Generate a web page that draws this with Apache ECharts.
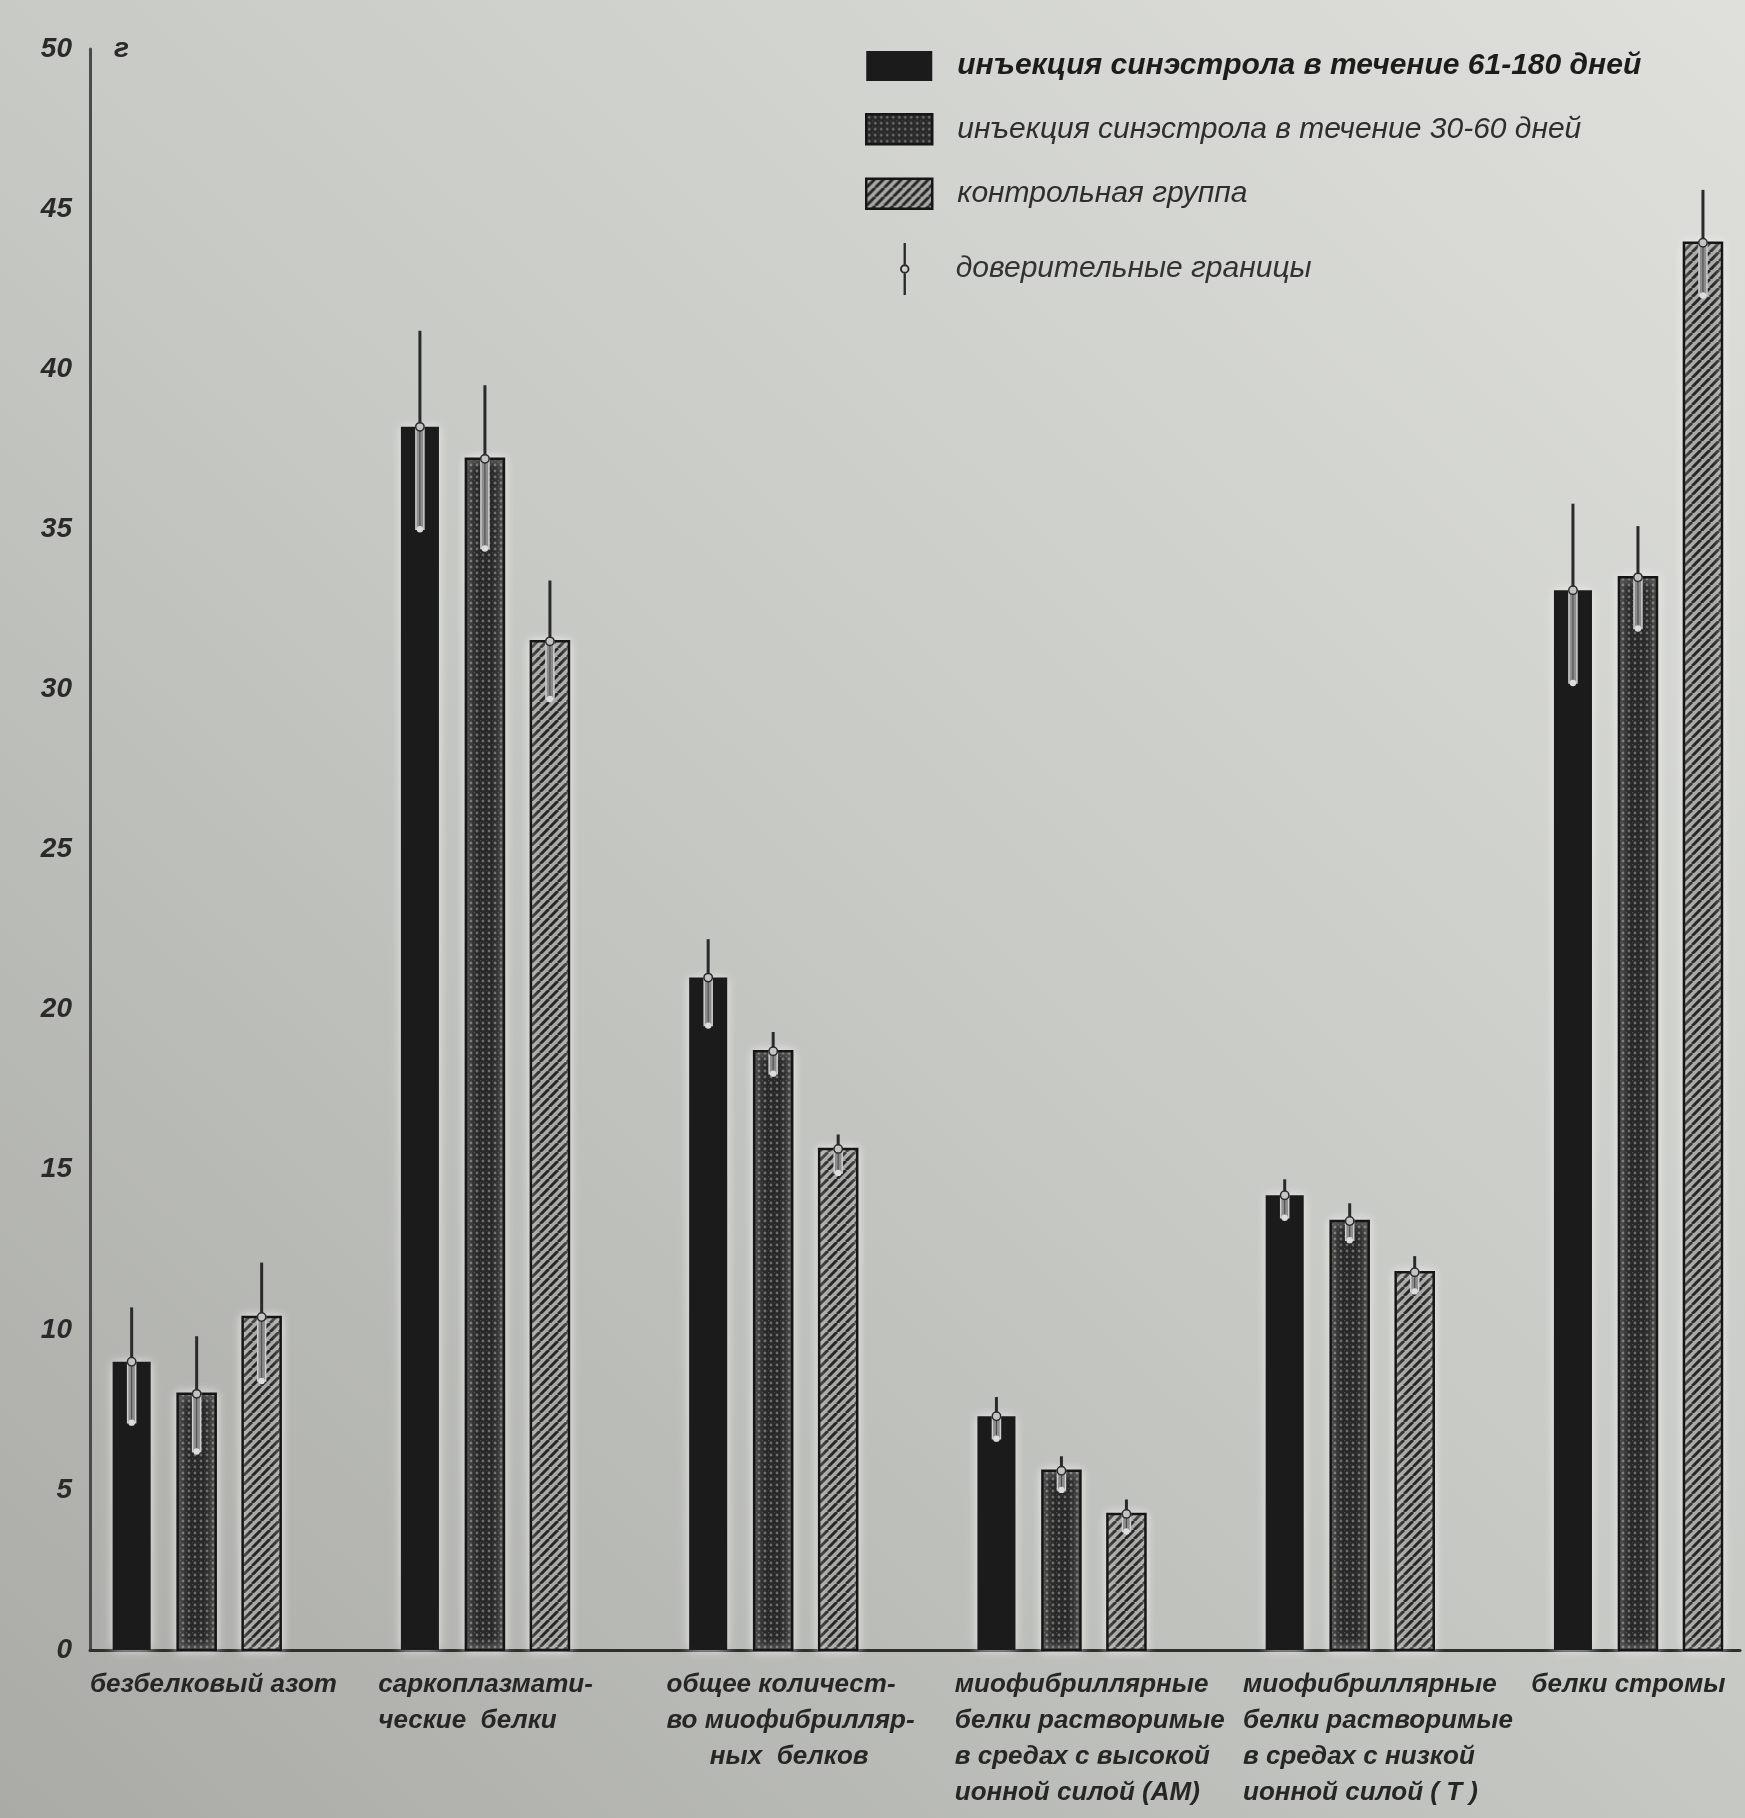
<!DOCTYPE html>
<html>
<head>
<meta charset="utf-8">
<script src="https://cdn.jsdelivr.net/npm/echarts@6/dist/echarts.min.js"></script>
<style>
html,body{margin:0;padding:0;width:1745px;height:1818px;overflow:hidden;}
#c{width:1745px;height:1818px;}
</style>
</head>
<body>
<div id="c"></div>
<script>
// ---- data ----
const categories = [
  'безбелковый азот',
  'саркоплазмати-\nческие  белки',
  'общее количест-\nво миофибрилляр-\n      ных  белков',
  'миофибриллярные\nбелки растворимые\nв средах с высокой\nионной силой (АМ)',
  'миофибриллярные\nбелки растворимые\nв средах с низкой\nионной силой ( Т )',
  'белки стромы'
];
const seriesNames = [
  'инъекция синэстрола в течение 61-180 дней',
  'инъекция синэстрола в течение 30-60 дней',
  'контрольная группа'
];
const errorName = 'доверительные границы';
const yTicks = [0, 5, 10, 15, 20, 25, 30, 35, 40, 45, 50];

const mean61_180  = [9.0, 38.2, 21.0, 7.3, 14.2, 33.1];
const upper61_180 = [10.7, 41.2, 22.2, 7.9, 14.7, 35.8];
const lower61_180 = [7.1, 35.0, 19.5, 6.6, 13.5, 30.2];

const mean30_60  = [8.0, 37.2, 18.7, 5.6, 13.4, 33.5];
const upper30_60 = [9.8, 39.5, 19.3, 6.05, 13.95, 35.1];
const lower30_60 = [6.2, 34.4, 18.0, 5.0, 12.8, 31.9];

const meanCtrl  = [10.4, 31.5, 15.65, 4.25, 11.8, 43.95];
const upperCtrl = [12.1, 33.4, 16.1, 4.7, 12.3, 45.6];
const lowerCtrl = [8.4, 29.7, 14.9, 3.7, 11.2, 42.3];

// ---- patterns ----
function makePattern(kind) {
  const c = document.createElement('canvas');
  if (kind === 'cross') {
    c.width = 6; c.height = 6;
    const g = c.getContext('2d');
    g.fillStyle = '#282828'; g.fillRect(0, 0, 6, 6);
    g.fillStyle = '#6e6e6e';
    g.beginPath(); g.arc(3, 3, 1.4, 0, Math.PI * 2); g.fill();
    g.fillStyle = '#505050';
    g.fillRect(0, 0, 1, 1);
  } else {
    c.width = 9; c.height = 9;
    const g = c.getContext('2d');
    g.fillStyle = '#a8a8a6'; g.fillRect(0, 0, 9, 9);
    g.strokeStyle = '#262626'; g.lineWidth = 3;
    for (let k = -9; k <= 18; k += 9) {
      g.beginPath(); g.moveTo(k, 9); g.lineTo(k + 9, 0); g.stroke();
    }
  }
  return { image: c, repeat: 'repeat' };
}
const fills = ['#1b1b1b', makePattern('cross'), makePattern('diag')];
const OFFSETS = [-0.2255, 0, 0.2255];
const BAR_W = 0.132;

function barRender(idx) {
  return function (params, api) {
    const x = api.value(0), v = api.value(1);
    const top = api.coord([x + OFFSETS[idx], v]);
    const bot = api.coord([x + OFFSETS[idx], 0]);
    const w = api.size([BAR_W, 0])[0];
    return {
      type: 'rect',
      shape: { x: top[0] - w / 2, y: top[1], width: w, height: bot[1] - top[1] },
      style: {
        fill: fills[idx],
        stroke: '#161616',
        lineWidth: idx === 0 ? 0 : 2.5,
        shadowBlur: 10,
        shadowColor: 'rgba(240,240,238,0.9)'
      }
    };
  };
}

function errRender(params, api) {
  const x = api.value(0), s = api.value(1);
  const m = api.value(2), lo = api.value(3), hi = api.value(4);
  const px = x + OFFSETS[s];
  const pm = api.coord([px, m]);
  const pl = api.coord([px, lo]);
  const ph = api.coord([px, hi]);
  return {
    type: 'group',
    children: [
      { type: 'line', shape: { x1: ph[0], y1: ph[1], x2: pm[0], y2: pm[1] },
        style: { stroke: '#2a2a2a', lineWidth: 3 } },
      { type: 'rect', shape: { x: pm[0] - 4, y: pm[1], width: 8, height: pl[1] - pm[1] },
        style: { fill: '#8c8c8c', stroke: '#cfcfcf', lineWidth: 1.5 } },
      { type: 'line', shape: { x1: pm[0], y1: pm[1], x2: pl[0], y2: pl[1] },
        style: { stroke: '#4a4a4a', lineWidth: 1 } },
      { type: 'circle', shape: { cx: pl[0], cy: pl[1], r: 3.2 },
        style: { fill: '#dcdcdc' } },
      { type: 'circle', shape: { cx: pm[0], cy: pm[1], r: 4.2 },
        style: { fill: '#c4c4c4', stroke: '#2a2a2a', lineWidth: 1.5 } }
    ]
  };
}

const means = [mean61_180, mean30_60, meanCtrl];
const lowers = [lower61_180, lower30_60, lowerCtrl];
const uppers = [upper61_180, upper30_60, upperCtrl];

const series = [];
for (let s = 0; s < 3; s++) {
  series.push({
    name: seriesNames[s],
    type: 'custom',
    renderItem: barRender(s),
    itemStyle: { color: s === 0 ? '#1b1b1b' : '#555' },
    encode: { x: 0, y: 1 },
    data: categories.map((c, i) => [i, means[s][i]]),
    z: 2
  });
}
const errData = [];
for (let s = 0; s < 3; s++) {
  for (let i = 0; i < categories.length; i++) {
    errData.push([i, s, means[s][i], lowers[s][i], uppers[s][i]]);
  }
}
series.push({
  name: errorName,
  type: 'custom',
  renderItem: errRender,
  itemStyle: { color: '#2a2a2a' },
  encode: { x: 0, y: [2, 3, 4] },
  data: errData,
  z: 3
});

const FONT = "'Liberation Sans', Arimo, 'DejaVu Sans', sans-serif";
const LABEL_SHIFT = -0.37;

const chart = echarts.init(document.getElementById('c'), null, { renderer: 'canvas' });
chart.setOption({
  animation: false,
  backgroundColor: {
    type: 'linear', x: 1, y: 0, x2: 0, y2: 1,
    colorStops: [
      { offset: 0, color: '#dfe0dc' },
      { offset: 0.5, color: '#c7c9c5' },
      { offset: 1, color: '#aaaba7' }
    ]
  },
  grid: { left: 90, right: 5, top: 49, bottom: 168 },
  legend: [
    {
      orient: 'vertical',
      left: 860, top: 46,
      itemWidth: 66, itemHeight: 30,
      itemGap: 32,
      selectedMode: false,
      textStyle: { fontFamily: FONT, fontStyle: 'italic', fontSize: 30, color: '#2e2e2e', padding: [0, 0, 0, 20] },
      data: [
        { name: seriesNames[0], icon: 'rect', itemStyle: { color: '#1b1b1b' },
          textStyle: { fontWeight: 'bold', color: '#1c1c1c' } },
        { name: seriesNames[1], icon: 'rect', itemStyle: { color: fills[1], borderColor: '#161616', borderWidth: 2.5 } },
        { name: seriesNames[2], icon: 'rect', itemStyle: { color: fills[2], borderColor: '#161616', borderWidth: 2.5 } }
      ]
    },
    {
      orient: 'vertical',
      left: 895, top: 238,
      itemWidth: 14, itemHeight: 52,
      selectedMode: false,
      textStyle: { fontFamily: FONT, fontStyle: 'italic', fontSize: 30, color: '#333', padding: [0, 0, 0, 39] },
      data: [
        { name: errorName,
          icon: 'path://M9,0h2v18h-2z M10,18a4,4 0 1,1 -0.01,0z M10,19.6a2.4,2.4 0 1,0 0.01,0z M9,26h2v18h-2z',
          itemStyle: { color: '#2a2a2a' } }
      ]
    }
  ],
  xAxis: {
    type: 'value',
    min: -0.37,
    max: 5.354,
    splitLine: { show: false },
    axisTick: { show: false },
    axisLine: { show: true, onZero: false, lineStyle: { color: '#2f2f2f', width: 3 } },
    axisLabel: {
      customValues: categories.map((c, i) => i + LABEL_SHIFT),
      formatter: function (v) { return categories[Math.round(v - LABEL_SHIFT)]; },
      align: 'left',
      verticalAlign: 'top',
      margin: 17,
      fontFamily: FONT, fontStyle: 'italic', fontWeight: 'bold',
      fontSize: 26, lineHeight: 36, color: '#262626'
    }
  },
  yAxis: {
    type: 'value',
    min: 0, max: 50, interval: 5,
    name: 'г',
    nameLocation: 'end',
    nameGap: 0,
    nameTextStyle: { fontFamily: FONT, fontStyle: 'italic', fontWeight: 'bold', fontSize: 28,
      color: '#2a2a2a', align: 'left', verticalAlign: 'middle', padding: [0, 0, 0, 24] },
    splitLine: { show: false },
    axisTick: { show: false },
    axisLine: { show: true, onZero: false, lineStyle: { color: '#4a4a4a', width: 3 } },
    axisLabel: {
      margin: 18,
      formatter: function (v) { return yTicks.indexOf(v) >= 0 ? String(v) : ''; },
      fontFamily: FONT, fontStyle: 'italic', fontWeight: 'bold', fontSize: 28, color: '#2a2a2a'
    }
  },
  series: series
});
</script>
</body>
</html>
